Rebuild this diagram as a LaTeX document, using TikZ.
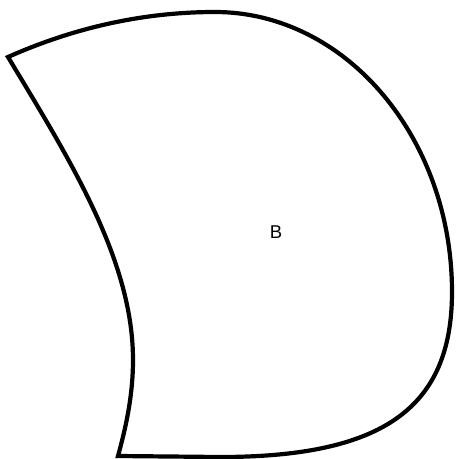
\documentclass[tikz,border=0pt]{standalone}
\usepackage{fontspec}
\setmainfont{Liberation Sans}
\tikzset{shapeline/.style={draw=black,line width=4.2pt,line join=miter},
  lbl/.style={font=\fontsize{18.5}{20}\selectfont,inner sep=0pt}}
\begin{document}
\begin{tikzpicture}[x=1pt,y=-1pt]
\useasboundingbox (0,0) rectangle (456,459);
\draw[shapeline] (8,57) .. controls (80,25) and (150,12) .. (215,12)
  .. controls (346,12) and (452,138) .. (452,292)
  .. controls (452,408) and (383,457) .. (220,457)
  -- (118,456)
  .. controls (128,420) and (133,390) .. (133,360)
  .. controls (133,260) and (70,160) .. (8,57) -- cycle;
\node[lbl] (b) at (276,232) {B};
\end{tikzpicture}
\end{document}
